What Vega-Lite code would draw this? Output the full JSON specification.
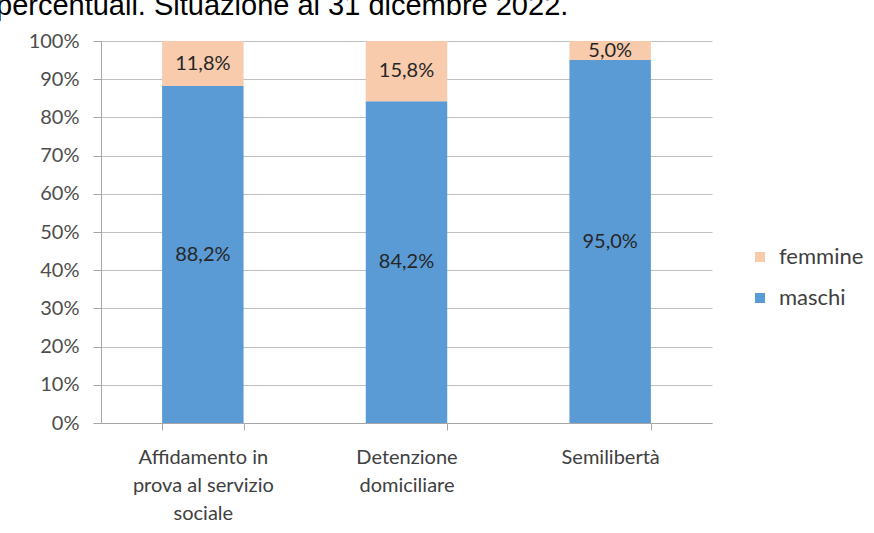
{
  "$schema": "https://vega.github.io/schema/vega-lite/v6.json",
  "width": 611,
  "height": 382,
  "autosize": {"type": "none"},
  "padding": {"left": 101, "top": 41, "right": 162, "bottom": 110},
  "background": "white",
  "title": {
    "text": "percentuali. Situazione al 31 dicembre 2022.",
    "anchor": "start",
    "frame": "group",
    "orient": "top",
    "font": "Liberation Sans",
    "fontSize": 29,
    "fontWeight": "normal",
    "color": "#000000",
    "baseline": "alphabetic",
    "offset": 0,
    "dx": -105,
    "dy": 13
  },
  "config": {
    "locale": {"number": {"decimal": ",", "thousands": ".", "grouping": [3], "currency": ["€", ""]}},
    "view": {"stroke": null},
    "font": "Lato"
  },
  "data": {
    "values": [
      {"misura": "Affidamento in prova al servizio sociale", "sesso": "maschi", "quota": 0.882},
      {"misura": "Affidamento in prova al servizio sociale", "sesso": "femmine", "quota": 0.118},
      {"misura": "Detenzione domiciliare", "sesso": "maschi", "quota": 0.842},
      {"misura": "Detenzione domiciliare", "sesso": "femmine", "quota": 0.158},
      {"misura": "Semilibertà", "sesso": "maschi", "quota": 0.95},
      {"misura": "Semilibertà", "sesso": "femmine", "quota": 0.05}
    ]
  },
  "encoding": {
    "x": {
      "field": "misura",
      "type": "nominal",
      "sort": null,
      "scale": {"paddingInner": 0.6, "paddingOuter": 0.3},
      "axis": {
        "title": null,
        "labelAngle": 0,
        "labelFont": "Lato",
        "labelFontSize": 20,
        "labelColor": "#404040",
        "labelLineHeight": 28,
        "labelPadding": 17,
        "labelBaseline": "top",
        "labelExpr": "datum.label == 'Affidamento in prova al servizio sociale' ? ['Affidamento in', 'prova al servizio', 'sociale'] : datum.label == 'Detenzione domiciliare' ? ['Detenzione', 'domiciliare'] : datum.label",
        "tickBand": "extent",
        "tickSize": 7,
        "tickColor": "#A6A6A6",
        "domainColor": "#A6A6A6",
        "grid": false
      }
    },
    "y": {
      "field": "quota",
      "type": "quantitative",
      "stack": "zero",
      "scale": {"domain": [0, 1], "nice": false},
      "axis": {
        "title": null,
        "format": ".0%",
        "values": [0, 0.1, 0.2, 0.3, 0.4, 0.5, 0.6, 0.7, 0.8, 0.9, 1],
        "labelFont": "Lato",
        "labelFontSize": 20,
        "labelColor": "#4D4D4D",
        "labelPadding": 14,
        "tickSize": 8,
        "tickColor": "#A6A6A6",
        "domainColor": "#A6A6A6",
        "gridColor": "#BFBFBF",
        "grid": true
      }
    }
  },
  "layer": [
    {
      "mark": {"type": "bar"},
      "encoding": {
        "color": {
          "field": "sesso",
          "type": "nominal",
          "scale": {"domain": ["femmine", "maschi"], "range": ["#F8CBAD", "#5B9BD5"]},
          "legend": {
            "title": null,
            "orient": "none",
            "legendX": 648,
            "legendY": 205,
            "symbolType": "square",
            "symbolSize": 100,
            "symbolStrokeWidth": 0,
            "labelFont": "Lato",
            "labelFontSize": 22,
            "labelColor": "#404040",
            "rowPadding": 19,
            "labelOffset": 8
          }
        },
        "order": {"field": "sesso", "sort": "descending"}
      }
    },
    {
      "mark": {"type": "text", "font": "Lato", "fontSize": 20, "color": "#262626", "baseline": "middle"},
      "encoding": {
        "y": {"field": "quota", "type": "quantitative", "stack": "zero", "bandPosition": 0.5},
        "text": {"field": "quota", "type": "quantitative", "format": ".1%"},
        "detail": {"field": "sesso"},
        "order": {"field": "sesso", "sort": "descending"}
      }
    }
  ]
}
